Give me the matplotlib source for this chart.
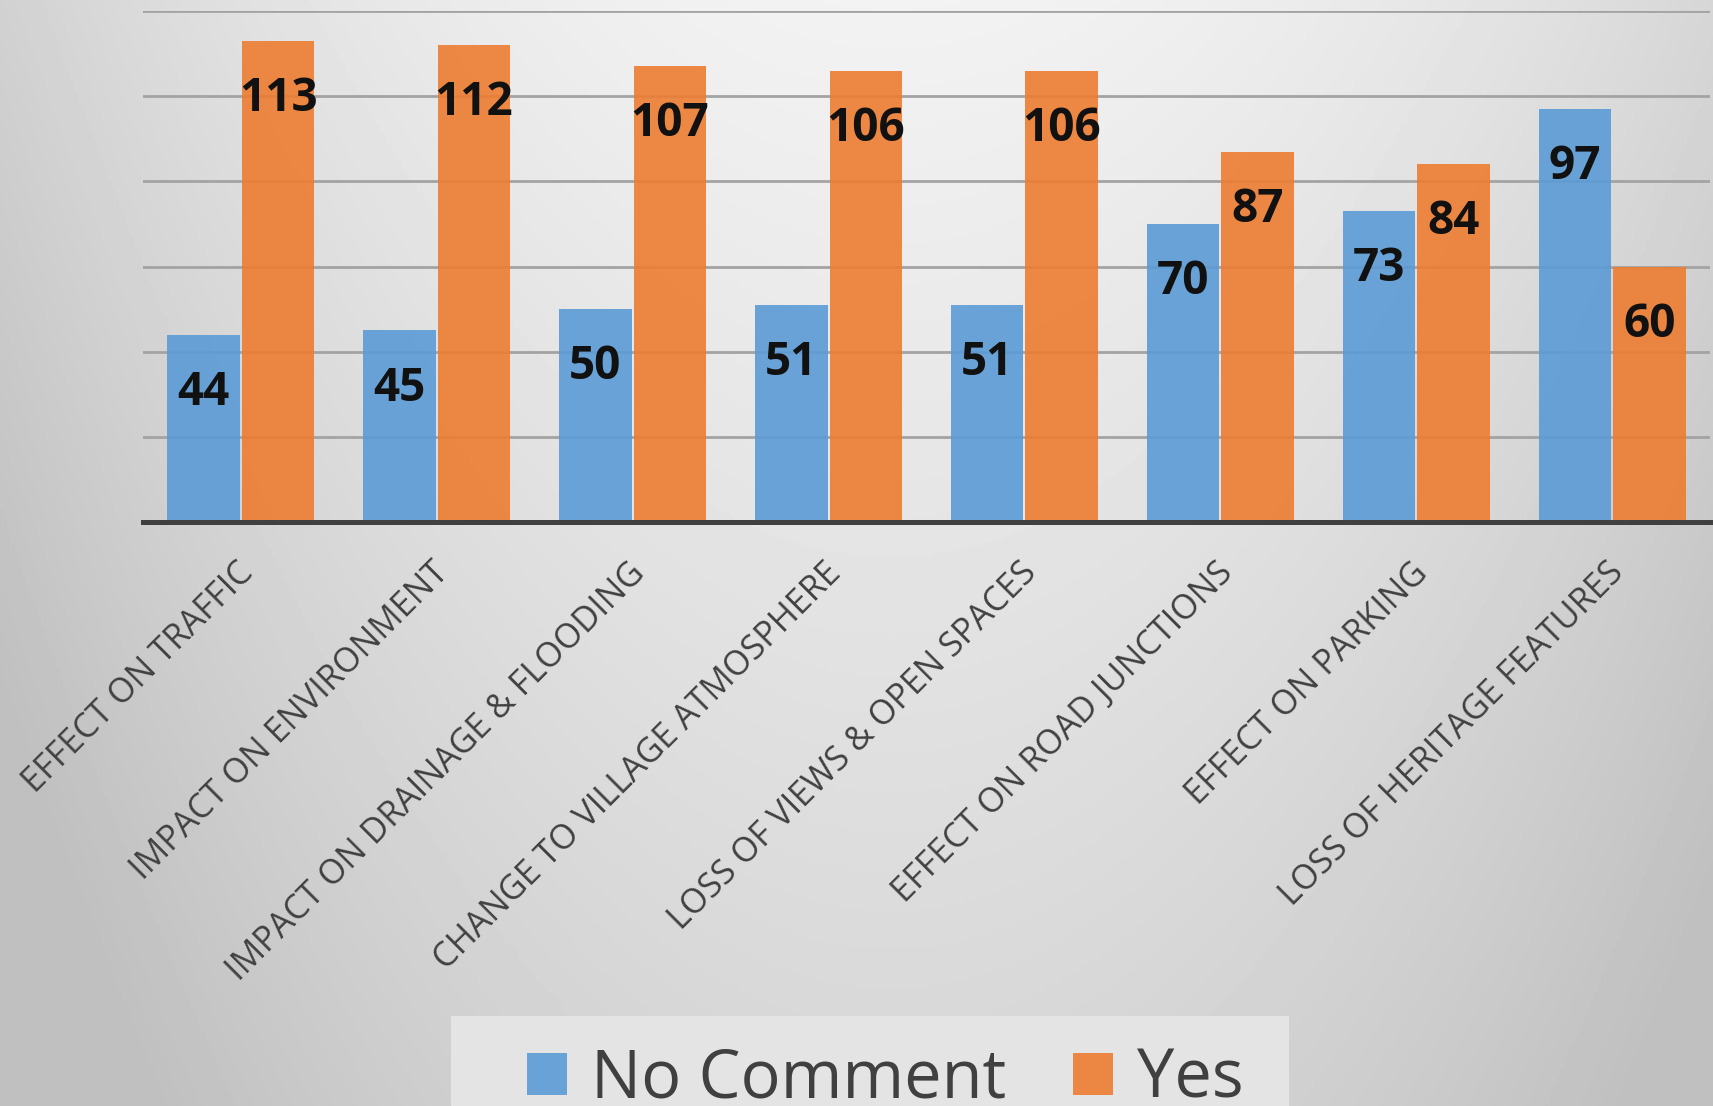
import numpy as np
import matplotlib.pyplot as plt
from matplotlib.patches import Rectangle
from matplotlib.transforms import ScaledTranslation

categories = [
    "EFFECT ON TRAFFIC",
    "IMPACT ON ENVIRONMENT",
    "IMPACT ON DRAINAGE & FLOODING",
    "CHANGE TO VILLAGE ATMOSPHERE",
    "LOSS OF VIEWS & OPEN SPACES",
    "EFFECT ON ROAD JUNCTIONS",
    "EFFECT ON PARKING",
    "LOSS OF HERITAGE FEATURES",
]
no_comment = [44, 45, 50, 51, 51, 70, 73, 97]
yes = [113, 112, 107, 106, 106, 87, 84, 60]
series_names = ["No Comment", "Yes"]

BLUE = "#5b9bd5"
ORANGE = "#ed7d31"
FONT = "Open Sans"

fig = plt.figure(figsize=(17.13, 11.06), dpi=100)

# soft grey slide background, light at the top middle, darker towards the sides
bg = fig.add_axes([0, 0, 1, 1], zorder=-10)
yy, xx = np.mgrid[0:1:300j, 0:1:460j]
dx = (xx - 0.52) / 0.5
shade = np.clip(0.95 - 0.12 * dx ** 2 - 0.11 * yy, 0.75, 0.96)
bg.imshow(shade, cmap="gray", vmin=0, vmax=1, aspect="auto", extent=[0, 1, 1, 0])
bg.axis("off")

ax = fig.add_axes([143 / 1713, 1 - 522 / 1106, 1567 / 1713, 511 / 1106])
ax.set_facecolor("none")

x = np.arange(len(categories))
w = 0.37
b1 = ax.bar(x - 0.19, no_comment, w, color=BLUE, alpha=0.9, label=series_names[0], zorder=2)
b2 = ax.bar(x + 0.19, yes, w, color=ORANGE, alpha=0.9, label=series_names[1], zorder=2)

for bars, vals in [(b1, no_comment), (b2, yes)]:
    for r, v in zip(bars, vals):
        ax.annotate(str(v), (r.get_x() + r.get_width() / 2, v), xytext=(0, -41.5),
                    textcoords="offset points", ha="center", va="center",
                    fontsize=33, fontweight="bold", family=FONT, color="#111111", zorder=3)

ax.set_xlim(-0.5, len(categories) - 0.5)
ax.set_ylim(0, 120)
ax.set_yticks(range(0, 121, 20))
ax.yaxis.grid(True, color="#a3a3a3", linewidth=2)
ax.set_axisbelow(True)
ax.tick_params(axis="y", left=False, labelleft=False)
ax.tick_params(axis="x", bottom=False, pad=21)
for s in ["top", "right", "left"]:
    ax.spines[s].set_visible(False)
ax.spines["bottom"].set_color("#404040")
ax.spines["bottom"].set_linewidth(3.6)
ax.spines["bottom"].set_zorder(4)

ax.set_xticks(x)
ax.set_xticklabels(categories, rotation=45, ha="right", va="top", rotation_mode="anchor",
                   fontsize=24.5, family=FONT, color="#404040")
shift = ScaledTranslation(-0.05, 0, fig.dpi_scale_trans)
for lab in ax.get_xticklabels():
    lab.set_transform(lab.get_transform() + shift)

# legend panel (runs off the bottom edge, as in the slide)
fig.patches.append(Rectangle((451 / 1713, -0.05), 838 / 1713, 0.05 + 90 / 1106,
                             transform=fig.transFigure, facecolor="#e4e4e4",
                             edgecolor="none", zorder=-5))
leg = fig.legend(handles=[b1, b2], loc="upper center", bbox_to_anchor=(885 / 1713, 1 - 1016 / 1106),
                 ncol=2, frameon=False, prop={"family": FONT, "size": 48}, labelcolor="#404040",
                 handlelength=0.6, handleheight=0.6, handletextpad=0.36, columnspacing=1.0,
                 borderpad=0.45, borderaxespad=0)
for h in leg.legend_handles:
    h.set_alpha(0.9)

plt.savefig("out.png", dpi=100)
